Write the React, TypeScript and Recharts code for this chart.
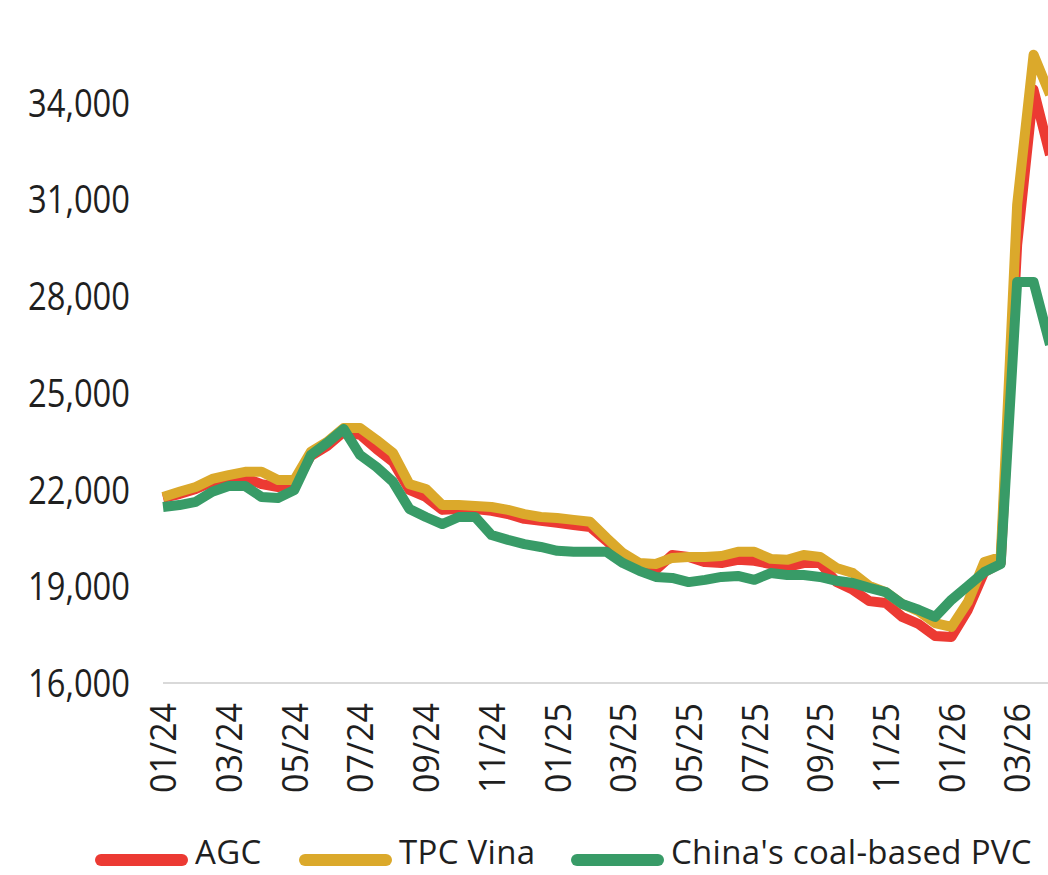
import { LineChart, Line, XAxis, YAxis } from "recharts";

// month index 0 = 01/24, one point every half month
const tickLabels = [
  "01/24", "03/24", "05/24", "07/24", "09/24", "11/24", "01/25",
  "03/25", "05/25", "07/25", "09/25", "11/25", "01/26", "03/26",
];
const monthTicks = [0, 2, 4, 6, 8, 10, 12, 14, 16, 18, 20, 22, 24, 26];
const valueTicks = [16000, 19000, 22000, 25000, 28000, 31000, 34000];

const agc = [
  21740, 21860, 22020, 22240, 22330, 22360, 22170, 22080, 22170, 23040,
  23350, 23790, 23700, 23260, 22860, 21990, 21770, 21370, 21400, 21400,
  21340, 21240, 21090, 21030, 20970, 20900, 20840, 20410, 19940, 19660,
  19510, 19970, 19910, 19750, 19720, 19820, 19790, 19690, 19600, 19720,
  19720, 19130, 18890, 18540, 18480, 18050, 17830, 17460, 17430, 18270,
  19440, 19720, 29590, 34400, 32380,
];
const tpcVina = [
  21770, 21930, 22080, 22330, 22450, 22550, 22550, 22300, 22300, 23170,
  23480, 23910, 23910, 23540, 23140, 22170, 22020, 21520, 21520, 21490,
  21460, 21370, 21240, 21150, 21120, 21060, 21000, 20500, 20030, 19720,
  19690, 19880, 19910, 19910, 19940, 20070, 20070, 19850, 19820, 19970,
  19910, 19570, 19410, 19010, 18820, 18450, 18230, 17860, 17740, 18510,
  19750, 19910, 30830, 35490, 34250,
];
const chinaPvc = [
  21460, 21520, 21620, 21930, 22110, 22110, 21770, 21740, 21990, 23070,
  23450, 23880, 23070, 22700, 22240, 21400, 21150, 20930, 21150, 21150,
  20590, 20440, 20310, 20220, 20100, 20070, 20070, 20070, 19720, 19480,
  19290, 19260, 19130, 19200, 19290, 19320, 19200, 19410, 19350, 19350,
  19290, 19170, 19100, 18950, 18820, 18450, 18270, 18050, 18580, 19010,
  19440, 19690, 28440, 28440, 26490,
];

const rows = agc.map((v, i) => ({
  m: i / 2,
  agc: v,
  tpc: tpcVina[i],
  china: chinaPvc[i],
}));

const series = [
  { key: "agc", name: "AGC", color: "#ec3a33", left: 95 },
  { key: "tpc", name: "TPC Vina", color: "#dba92b", left: 299 },
  { key: "china", name: "China's coal-based PVC", color: "#389b67", left: 571 },
];

const FONT = '"Open Sans", "Noto Sans", sans-serif';
const INK = "#1f1f1f";

// the source font is a condensed face, so squeeze the glyphs to its width
function MonthTick(props: any) {
  const { x, y, payload } = props;
  const label = tickLabels[monthTicks.indexOf(payload.value)] ?? "";
  return (
    <text
      x={x}
      y={y}
      transform={`rotate(-90 ${x} ${y})`}
      textAnchor="end"
      dy="0.36em"
      fontSize={37}
      fontFamily={FONT}
      fill={INK}
      textLength={90}
      lengthAdjust="spacingAndGlyphs"
    >
      {label}
    </text>
  );
}

function ValueTick(props: any) {
  const { x, y, payload } = props;
  return (
    <text
      x={x}
      y={y}
      textAnchor="end"
      dy="0.36em"
      fontSize={39}
      fontFamily={FONT}
      fill={INK}
      textLength={102}
      lengthAdjust="spacingAndGlyphs"
    >
      {Number(payload.value).toLocaleString("en-US")}
    </text>
  );
}

export default function App() {
  return (
    <div
      style={{
        position: "absolute",
        left: 0,
        top: 0,
        width: 1048,
        height: 875,
        overflow: "hidden",
        background: "#fff",
      }}
    >
      <LineChart
        width={1052}
        height={875}
        data={rows}
        margin={{ top: 6, right: 2, bottom: 0, left: 0 }}
      >
        <XAxis
          dataKey="m"
          type="number"
          domain={[0, 27]}
          ticks={monthTicks}
          interval={0}
          tick={<MonthTick />}
          tickLine={false}
          tickSize={0}
          tickMargin={20}
          height={192}
          axisLine={{ stroke: "#d9d9d9", strokeWidth: 2 }}
        />
        <YAxis
          domain={[16000, 37000]}
          ticks={valueTicks}
          width={163}
          axisLine={false}
          tickLine={false}
          tickSize={0}
          tickMargin={33}
          tick={<ValueTick />}
        />
        {series.map((s) => (
          <Line
            key={s.key}
            dataKey={s.key}
            name={s.name}
            type="linear"
            stroke={s.color}
            strokeWidth={10}
            strokeLinejoin="round"
            dot={false}
            isAnimationActive={false}
          />
        ))}
      </LineChart>
      {series.map((s) => (
        <div
          key={s.key}
          style={{
            position: "absolute",
            left: s.left,
            top: 829,
            display: "flex",
            alignItems: "flex-start",
            gap: 7,
            fontFamily: FONT,
            fontSize: 33,
            letterSpacing: 0.3,
            color: INK,
            whiteSpace: "nowrap",
          }}
        >
          <span
            style={{
              display: "inline-block",
              marginTop: 25,
              width: 93,
              height: 12,
              borderRadius: 6,
              background: s.color,
            }}
          />
          <span>{s.name}</span>
        </div>
      ))}
    </div>
  );
}
